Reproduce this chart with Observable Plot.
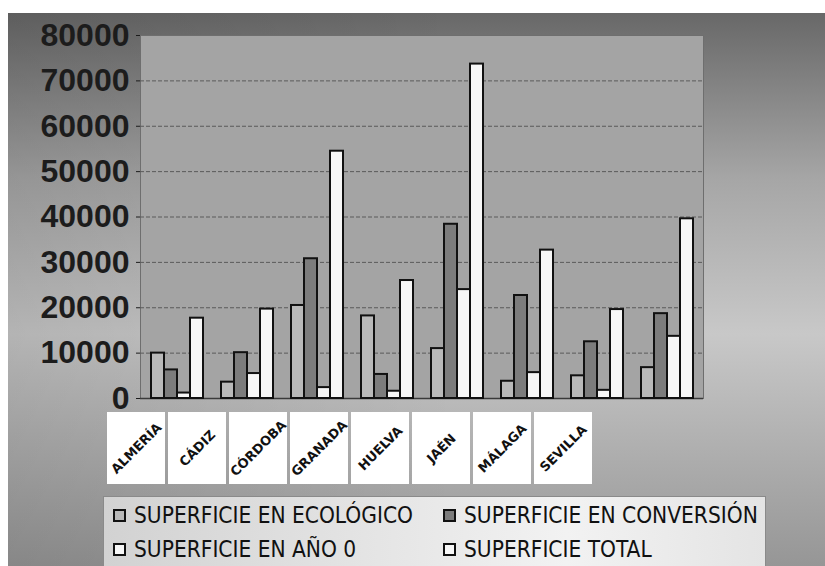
<!DOCTYPE html>
<html>
<head>
<meta charset="utf-8">
<script src="https://cdn.jsdelivr.net/npm/d3@7"></script>
<script src="https://cdn.jsdelivr.net/npm/@observablehq/plot@0.6"></script>
<style>
  body { margin: 0; background: #fff; }
  #chart { position: relative; width: 825px; height: 566px; overflow: hidden; background: #fff; }
  #bg { position: absolute; left: 8px; top: 13px; right: 0; bottom: 0;
    background:
      linear-gradient(to right, rgba(0,0,0,0.10), rgba(0,0,0,0) 55%),
      linear-gradient(to bottom, #686868 0%, #a6a6a6 30%, #c8c8c8 58%, #b0b0b0 78%, #969696 100%); }
  .layer { position: absolute; left: 0; top: 0; }
  #legend { position: absolute; left: 103px; top: 496px; width: 663px; height: 72px;
    background: linear-gradient(to right, #d2d2d2, #f2f2f2 70%, #e4e4e4);
    border: 1px solid #8a8a8a; box-sizing: border-box;
    font-family: "DejaVu Sans Condensed", "DejaVu Sans", sans-serif; font-stretch: condensed;
    font-size: 22.5px; color: #111; }
  .item { position: absolute; display: flex; align-items: center; white-space: nowrap; }
  .sw { width: 9px; height: 9px; border: 2px solid #111; margin-right: 8px; }
</style>
</head>
<body>
<div id="chart">
  <div id="bg"></div>
  <div id="legend"></div>
</div>
<script>
const categories = ["ALMERÍA", "CÁDIZ", "CÓRDOBA", "GRANADA", "HUELVA", "JAÉN", "MÁLAGA", "SEVILLA"];
const seriesNames = ["SUPERFICIE EN ECOLÓGICO", "SUPERFICIE EN CONVERSIÓN", "SUPERFICIE EN AÑO 0", "SUPERFICIE TOTAL"];
const ecologico  = [10000, 3600, 20500, 18200, 11000, 3800, 5000, 6800];
const conversion = [6300, 10100, 30800, 5300, 38400, 22700, 12500, 18700];
const anoCero    = [1200, 5500, 2400, 1600, 24000, 5700, 1800, 13700];
const total      = [17700, 19700, 54500, 26000, 73700, 32700, 19600, 39600];
const yTicks = [0, 10000, 20000, 30000, 40000, 50000, 60000, 70000, 80000];
const seriesColors = ["#b9b9b9", "#7c7c7c", "#f6f6f6", "#f8f8f8"];

const seriesValues = [ecologico, conversion, anoCero, total];
const rows = categories.flatMap((c, i) =>
  seriesNames.map((s, j) => ({cat: c, series: s, value: seriesValues[j][i]})));

const W = 825, H = 566;
const margins = {marginTop: 35, marginBottom: 168, marginLeft: 140, marginRight: 122};
const chart = document.getElementById("chart");
const legendEl = document.getElementById("legend");

// Layer 1: plot area, gridlines and y axis
const base = Plot.plot({
  width: W, height: H, ...margins,
  style: {background: "transparent", overflow: "visible"},
  y: {domain: [0, 80000]},
  marks: [
    Plot.frame({fill: "#a4a4a4", stroke: "#6e6e6e"}),
    Plot.ruleY(yTicks.slice(1, -1), {stroke: "#5a5a5a", strokeDasharray: "4,2", strokeWidth: 1}),
    Plot.axisY({ticks: yTicks, tickFormat: d3.format("d"), tickSize: 4, tickPadding: 7,
      fontSize: 32, fontWeight: "bold", fontFamily: "Liberation Sans, Arial, sans-serif",
      color: "#1c1c1c", label: null}),
    Plot.ruleY([0], {stroke: "#3a3a3a", strokeWidth: 1.5})
  ]
});
base.classList.add("layer");
chart.insertBefore(base, legendEl);

// Layer 2: grouped bars
const bars = Plot.plot({
  width: W, height: H, ...margins,
  style: {background: "transparent", overflow: "visible"},
  fx: {domain: categories, paddingInner: 0.25, paddingOuter: 0.125, axis: null, label: null},
  x: {domain: seriesNames, padding: 0, axis: null},
  y: {domain: [0, 80000], axis: null},
  color: {domain: seriesNames, range: seriesColors},
  marks: [
    Plot.barY(rows, {fx: "cat", x: "series", y: "value", fill: "series", stroke: "#111", strokeWidth: 2})
  ]
});
bars.classList.add("layer");
chart.insertBefore(bars, legendEl);

// Layer 3: category labels in white boxes
const labels = Plot.plot({
  width: W, height: 72, marginTop: 0, marginBottom: 0, marginLeft: 100, marginRight: 227,
  style: {background: "transparent", overflow: "visible"},
  x: {domain: categories, padding: 0.05, axis: null},
  marks: [
    Plot.cell(categories, {x: d => d, fill: "white"}),
    Plot.text(categories, {x: d => d, text: d => d, frameAnchor: "middle", rotate: -45,
      fontSize: 13, fontWeight: "bold", fontFamily: "DejaVu Sans, sans-serif", fill: "#111"})
  ]
});
labels.classList.add("layer");
labels.style.top = "412px";
chart.insertBefore(labels, legendEl);

// Legend
const legendPos = [[9, 19], [339, 19], [9, 53], [339, 53]];
seriesNames.forEach((s, i) => {
  const it = document.createElement("div");
  it.className = "item";
  it.style.left = legendPos[i][0] + "px";
  it.style.top = (legendPos[i][1] - 14) + "px";
  const sw = document.createElement("div");
  sw.className = "sw";
  sw.style.background = seriesColors[i];
  const tx = document.createElement("span");
  tx.textContent = s;
  it.appendChild(sw); it.appendChild(tx);
  legendEl.appendChild(it);
});
</script>
</body>
</html>
